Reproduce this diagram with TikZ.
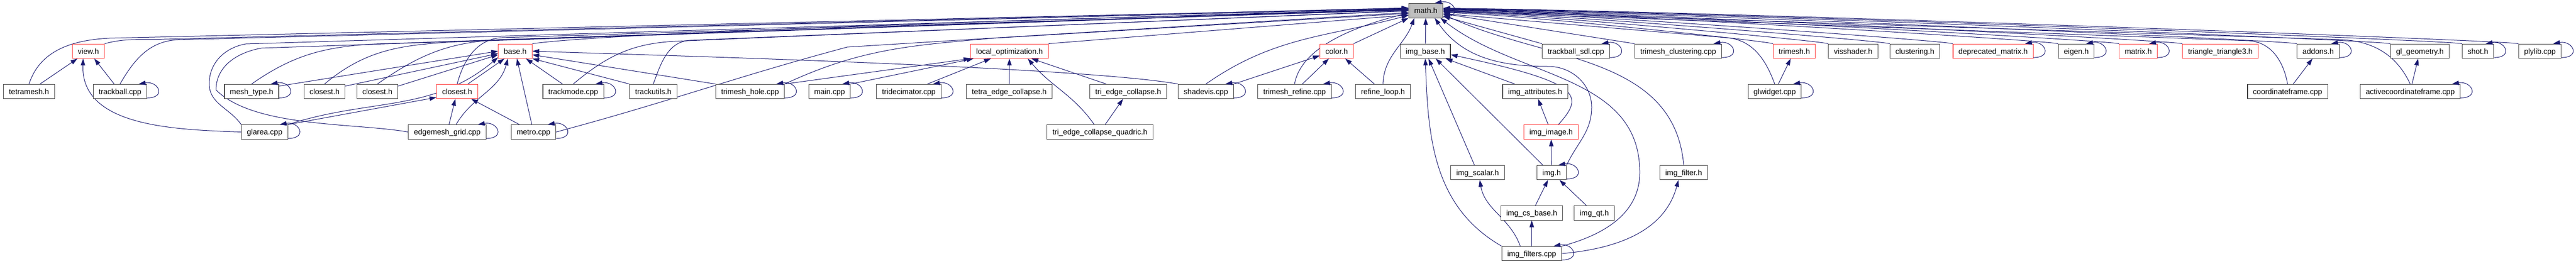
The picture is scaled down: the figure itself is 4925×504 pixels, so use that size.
\documentclass[tikz,border=0pt]{standalone}
\usepackage{fontspec}
\setmainfont{Liberation Sans}
\usetikzlibrary{arrows.meta, backgrounds}
\definecolor{edgeblue}{HTML}{191970}
\definecolor{boxline}{HTML}{404040}
\definecolor{trunc}{HTML}{FF3B3B}
\definecolor{rootgray}{HTML}{BFBFBF}

\begin{document}
\begin{tikzpicture}[
  x=1pt, y=1pt,
  file/.style={draw=boxline, line width=1.1pt, fill=white,
               font=\fontsize{14.5}{17}\selectfont, text=black,
               inner xsep=10.5pt, inner ysep=0pt, minimum height=27.5pt,
               text height=10.5pt, text depth=0pt},
  rootfile/.style={file, fill=rootgray},
  dep/.style={-{Triangle[length=13pt,width=8.5pt]}, draw=edgeblue, line width=1pt},
  loopback/.style={out=0, in=10, distance=38pt}
]
  \useasboundingbox (0,0) rectangle (4925,-504);

  \node[rootfile] (math) at (2726,-20.3) {math.h};

  % first row
  \foreach \n/\x/\c/\t in {
      viewh/169/trunc/view.h, baseh/985/trunc/base.h,
      localopt/1930/trunc/local\_optimization.h, colorh/2555.5/trunc/color.h,
      imgbase/2725/boxline/img\_base.h, tbsdl/3013/boxline/trackball\_sdl.cpp,
      tmclust/3208.5/boxline/trimesh\_clustering.cpp, trimeshh/3430.5/trunc/trimesh.h,
      visshader/3543/boxline/visshader.h, clusteringh/3661/boxline/clustering.h,
      depmat/3810.5/trunc/deprecated\_matrix.h, eigenh/3969.5/boxline/eigen.h,
      matrixh/4088/trunc/matrix.h, tritri/4245/trunc/triangle\_triangle3.h,
      addons/4432/boxline/addons.h, glgeom/4626.5/boxline/gl\_geometry.h,
      shoth/4737.5/boxline/shot.h, plylib/4856/boxline/plylib.cpp}
    \node[file, draw=\c] (\n) at (\x,-97.8) {\t};

  % second row
  \foreach \n/\x/\c/\t in {
      tetramesh/55.5/boxline/tetramesh.h, trackball/229.5/boxline/trackball.cpp,
      meshtype/481/boxline/mesh\_type.h, closestA/620.5/boxline/closest.h,
      closestB/721.5/boxline/closest.h, closestR/874/trunc/closest.h,
      trackmode/1096/boxline/trackmode.cpp, trackutils/1249/boxline/trackutils.h,
      tmhole/1434/boxline/trimesh\_hole.cpp, maincpp/1586/boxline/main.cpp,
      tridec/1737.5/boxline/tridecimator.cpp, tetraec/1929.5/boxline/tetra\_edge\_collapse.h,
      triec/2157/boxline/tri\_edge\_collapse.h, shadevis/2305.5/boxline/shadevis.cpp,
      tmrefine/2475/boxline/trimesh\_refine.cpp, refineloop/2644/boxline/refine\_loop.h,
      imgattr/2935/boxline/img\_attributes.h, glwidget/3393/boxline/glwidget.cpp,
      coordframe/4373.5/boxline/coordinateframe.cpp,
      activecf/4608/boxline/activecoordinateframe.cpp}
    \node[file, draw=\c] (\n) at (\x,-175) {\t};

  % lower rows
  \foreach \n/\x/\y/\c/\t in {
      glarea/506/-252.5/boxline/glarea.cpp, edgemesh/855/-252.5/boxline/edgemesh\_grid.cpp,
      metro/1020/-252.5/boxline/metro.cpp,
      triecq/2103/-252.5/boxline/tri\_edge\_collapse\_quadric.h,
      imgimage/2965.5/-252.5/trunc/img\_image.h,
      imgscalar/2825/-330/boxline/img\_scalar.h, imgh/2966.5/-330/boxline/img.h,
      imgfilter/3219/-330/boxline/img\_filter.h,
      imgcs/2928.5/-407.3/boxline/img\_cs\_base.h, imgqt/3048/-407.3/boxline/img\_qt.h,
      imgfilters/2928.5/-485/boxline/img\_filters.cpp}
    \node[file, draw=\c] (\n) at (\x,\y) {\t};

  \begin{scope}[on background layer]
    % long includes of math.h, bending once
    \foreach \n/\s/\o/\bx/\by/\i/\a in {
        tetramesh/north/72/209/-73/183/172, viewh/north east/15/314/-75/183/171,
        trackball/north/60/340/-76/183/173, meshtype/north/35/720/-84/183/175,
        closestA/north/40/874/-80/183/176, closestB/north/35/953/-76/183/177,
        closestR/north/75/960/-72/183/178, trackmode/north/40/1290/-79/183/180,
        trackutils/north/70/1320/-77/183/181, metro/east/15/1620/-90/195/186,
        tmhole/north east/25/1900/-73/185/189,
        glwidget/north/110/3300/-72/-4/-10, coordframe/north/100/4300/-78/-4/-2,
        activecf/north/115/4480/-76/-4/0}
      \draw[dep] (\n.\s) to[out=\o,in=\i] (\bx,\by) -- (math.\a);
    \foreach \n/\d/\a in {trimeshh/150/-6, visshader/175/-4, clusteringh/200/-2,
        depmat/230/0, eigenh/280/2, matrixh/305/3, tritri/335/4, addons/385/5,
        glgeom/430/6, shoth/460/7, plylib/485/8}
      \draw[dep] (\n.north west) .. controls +(-24,6.5) and +(\d,-5) .. (math.\a);
    \draw[dep] (glarea.north west) to[out=125,in=-90] (400,-160) to[out=90,in=190] (470,-84) -- (math.174);
    \draw[dep] (edgemesh.west) to[out=170,in=-45,looseness=0.7] (413,-172) to[out=90,in=190] (500,-92) -- (math.175);
    \draw[dep] (baseh.north east) .. controls +(195,27) and +(-197,-3) .. (math.179);
    \draw[dep] (localopt.north east) -- (math.194);
    \draw[dep] (shadevis.north) to[out=35,in=-165] (math.-165);
    \draw[dep] (tmrefine.north) to[out=80,in=-166,looseness=0.8] (math.-172);
    \draw[dep] (refineloop.north) to[out=88,in=-110] ([xshift=-22pt]math.south);
    \draw[dep] (colorh.north east) -- (math.south west);
    \draw[dep] (imgbase) -- (math);
    \draw[dep] (tbsdl.north west) -- (math.-18);
    \draw[dep] (tmclust.north west) -- (math.-10);
    \draw[dep] (imgh.north east) to[out=65,in=-90] (3043,-205) to[out=90,in=0] (2960,-127)
      to[out=180,in=-55] ([xshift=17pt]math.south);
    \draw[dep] (imgfilters.north east) to[out=15,in=-90] (3135,-330) to[out=90,in=-38] ([xshift=28pt]math.south);
    \draw[dep] (imgfilter.north) to[out=95,in=-25] (math.-12);

    % view.h and base.h
    \draw[dep] (tetramesh) -- (viewh);
    \draw[dep] (trackball) -- (viewh);
    \draw[dep] (glarea.west) to[out=178,in=-92] ([xshift=-10pt]viewh.south);
    \draw[dep] ([yshift=-4pt]meshtype.north east) -- (baseh.west);
    \draw[dep] ([yshift=-4pt]closestA.north east) -- (baseh.-172);
    \draw[dep] ([yshift=-4pt]closestB.north east) -- (baseh.-168);
    \draw[dep] (glarea.north east) to[out=18,in=-140] (baseh.-160);
    \draw[dep] (glarea.north east) -- ([yshift=3pt]closestR.south west);
    \draw[dep] (closestR) -- (baseh);
    \draw[dep] (edgemesh) -- (closestR);
    \draw[dep] ([xshift=17pt]edgemesh.north) to[out=60,in=-105] ([xshift=-14pt]baseh.south);
    \draw[dep] (metro) -- (closestR);
    \draw[dep] (metro) -- (baseh);
    \draw[dep] (trackmode) -- (baseh);
    \draw[dep] (trackutils.north west) -- (baseh.south east);
    \draw[dep] (tmhole.north west) -- (baseh.-12);
    \draw[dep] (shadevis.north west) .. controls +(-191,34) and +(194,-7) .. (baseh.east);

    % local_optimization.h
    \draw[dep] (tmhole.north east) -- (localopt.south west);
    \draw[dep] (maincpp.north east) -- ([xshift=6pt]localopt.south west);
    \draw[dep] (tridec) -- (localopt);
    \draw[dep] (tetraec) -- (localopt);
    \draw[dep] (triec) -- (localopt);
    \draw[dep] ([xshift=-11pt]triecq.north) to[out=125,in=-50] ([xshift=35pt]localopt.south);
    \draw[dep] (triecq) -- (triec);

    % color.h
    \draw[dep] (tmrefine) -- (colorh);
    \draw[dep] (refineloop) -- (colorh);
    \draw[dep] (shadevis.north east) -- (colorh.-165);

    % img files
    \draw[dep] (imgattr) -- (imgbase);
    \draw[dep] (imgimage) -- (imgattr);
    \draw[dep] ([xshift=14pt]imgimage.north) .. controls (3030,-182) and (3025,-158) .. (imgbase.-8);
    \draw[dep] (imgscalar) -- (imgbase);
    \draw[dep] ([xshift=-17pt]imgh.north) -- ([xshift=20pt]imgbase.south);
    \draw[dep] (imgh) -- (imgimage);
    \draw[dep] (imgcs) -- (imgh);
    \draw[dep] (imgqt) -- (imgh);
    \draw[dep] (imgfilters) -- (imgcs);
    \draw[dep] ([xshift=-22pt]imgfilters.north) to[out=110,in=-80] ([xshift=4pt]imgscalar.south);
    \draw[dep] (imgfilters.north west) to[out=150,in=-88] (imgbase.south);
    \draw[dep] (imgfilters.east) to[out=5,in=-105] ([xshift=-10pt]imgfilter.south);

    % the rest
    \draw[dep] (glwidget) -- (trimeshh);
    \draw[dep] (coordframe) -- (addons);
    \draw[dep] (activecf) -- (glgeom);
  \end{scope}

  % files that include themselves
  \foreach \n in {math, trackball, meshtype, glarea, edgemesh, metro, trackmode,
      tmhole, maincpp, tridec, shadevis, tmrefine, imgh, imgfilters, tbsdl,
      tmclust, glwidget, depmat, eigenh, matrixh, addons, shoth, plylib, activecf}
    \draw[dep] ([yshift=2pt]\n.south east) to[loopback] ([xshift=-16pt]\n.north east);
\end{tikzpicture}
\end{document}
